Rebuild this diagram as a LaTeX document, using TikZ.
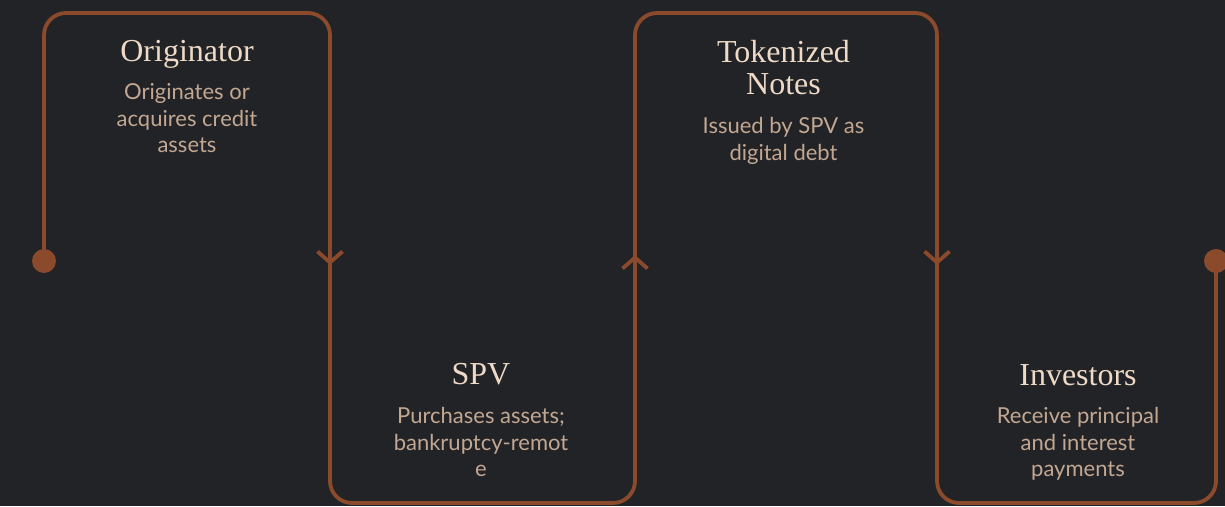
\documentclass[tikz,border=0pt]{standalone}
\usepackage{fontspec}
\newfontfamily\bodyfont{Lato}
\newfontfamily\headfont{Liberation Serif}
\usetikzlibrary{arrows.meta, positioning}

\definecolor{bgdark}{HTML}{222326}
\definecolor{rust}{HTML}{8B4A2C}
\definecolor{titlecol}{HTML}{EEDAC6}
\definecolor{bodycol}{HTML}{C2A792}

\tikzset{
  flow/.style={draw=rust, line width=3.8pt},
  barb/.style={flow, -{Straight Barb[length=11pt, width=25pt]}},
  stagetitle/.style={titlecol, inner sep=0pt, anchor=north, align=center,
    font=\headfont\fontsize{32}{32}\selectfont},
  stagetext/.style={bodycol, inner sep=0pt, anchor=north, align=center,
    font=\bodyfont\fontsize{22}{26.5}\selectfont},
}

\begin{document}
\begin{tikzpicture}[x=1pt, y=-1pt]
    \fill[bgdark] (0,0) rectangle (1225,506);
    \useasboundingbox (0,0) rectangle (1225,506);

    % corners of the winding line
    \coordinate (start) at (44,261);
    \coordinate (finish) at (1216,261);

    \draw[flow, rounded corners=22pt] (start) -- (44,13) -- (330,13) -- (330,503)
        -- (635,503) -- (635,13) -- (937,13) -- (937,503) -- (1216,503) -- (finish);
    \fill[rust] (start) circle (12pt);
    \fill[rust] (finish) circle (12pt);

    % direction marks
    \draw[barb] (330,240) -- (330,265);
    \draw[barb] (635,280) -- (635,255);
    \draw[barb] (937,240) -- (937,265);

    % stages
    \node[stagetitle] (orig) at (187,40.5) {Originator};
    \node[stagetext] (origtxt) at (187,83.5) {Originates or\\acquires credit\\assets};

    \node[stagetitle] (spv) at (481,363.5) {SPV};
    \node[stagetext] (spvtxt) at (481,407.5) {Purchases assets;\\bankruptcy-remot\\e};

    \node[stagetitle] (notes) at (783.5,40) {Tokenized\\Notes};
    \node[stagetext] (notestxt) at (783.5,117.5) {Issued by SPV as\\digital debt};

    \node[stagetitle] (inv) at (1078,364) {Investors};
    \node[stagetext] (invtxt) at (1078,407.5) {Receive principal\\and interest\\payments};
\end{tikzpicture}
\end{document}
